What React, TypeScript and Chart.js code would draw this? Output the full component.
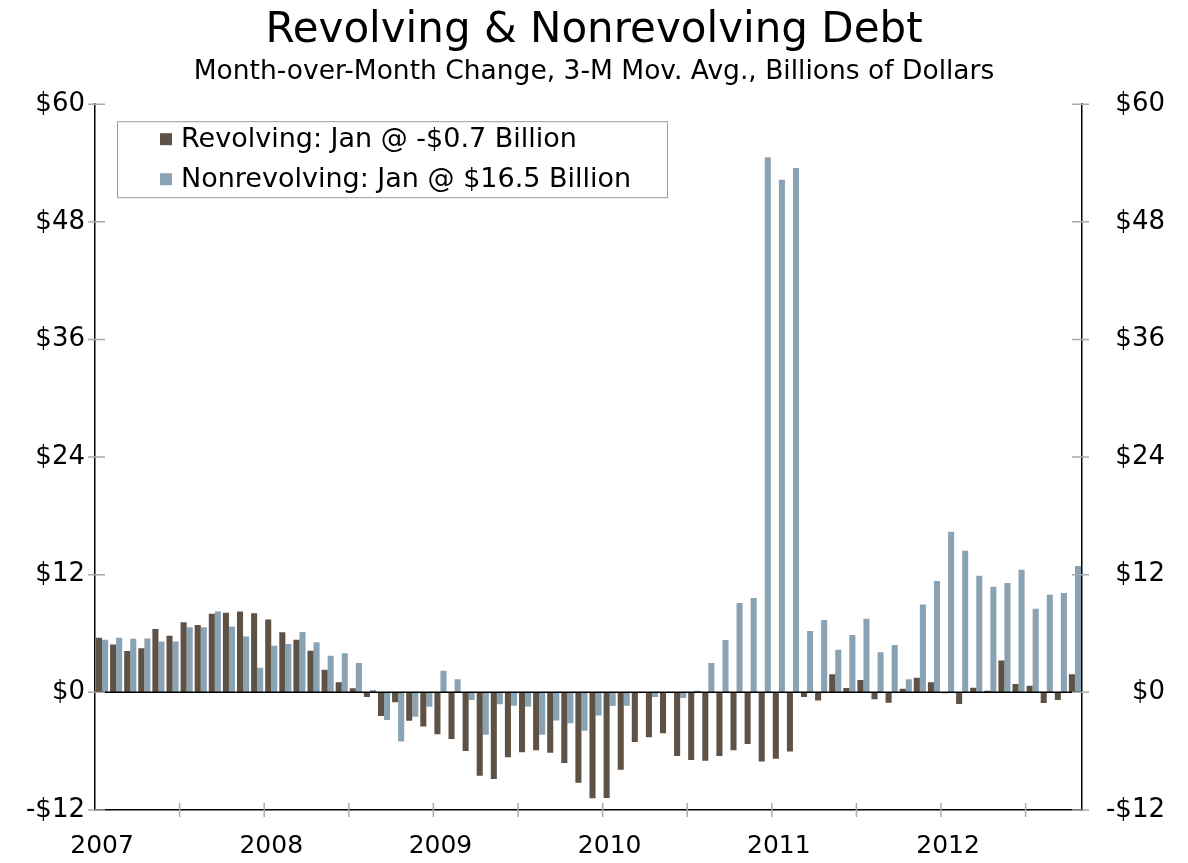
import React, { useEffect, useRef } from "react";
import { Chart, registerables } from "chart.js";

Chart.register(...registerables);

const years = ["2007", "2008", "2009", "2010", "2011", "2012"];
const monthNames = ["01", "02", "03", "04", "05", "06", "07", "08", "09", "10", "11", "12"];
const monthCount = 70;
const categories: string[] = [];
for (let i = 0; i < monthCount; i++) {
  categories.push(years[Math.floor(i / 12)] + "-" + monthNames[i % 12]);
}

const revolving = [
  5.57, 4.89, 4.21, 4.49, 6.46, 5.78, 7.14, 6.87, 8.02, 8.12, 8.26, 8.06,
  7.44, 6.12, 5.37, 4.25, 2.31, 1.02, 0.41, -0.48, -2.41, -1.02, -2.89, -3.47,
  -4.28, -4.76, -5.98, -8.5, -8.84, -6.63, -6.12, -5.91, -6.15, -7.21, -9.21, -10.81,
  -10.77, -7.89, -5.06, -4.59, -4.18, -6.49, -6.9, -6.97, -6.49, -5.91, -5.27, -7.04,
  -6.76, -6.02, -0.48, -0.82, 1.84, 0.44, 1.26, -0.71, -1.05, 0.37, 1.5, 1.02,
  -0.1, -1.19, 0.48, 0.17, 3.26, 0.85, 0.68, -1.09, -0.78, 1.84,
];

const nonrevolving = [
  5.37, 5.57, 5.47, 5.5, 5.2, 5.2, 6.63, 6.63, 8.26, 6.73, 5.71, 2.52,
  4.76, 4.93, 6.15, 5.1, 3.74, 3.98, 2.99, 0.24, -2.82, -5.0, -2.48, -1.46,
  2.21, 1.33, -0.78, -4.32, -1.22, -1.36, -1.43, -4.32, -2.86, -3.16, -3.91, -2.35,
  -1.39, -1.36, 0, -0.48, 0, -0.58, 0.17, 2.99, 5.34, 9.11, 9.62, 54.6,
  52.3, 53.5, 6.25, 7.38, 4.35, 5.85, 7.51, 4.08, 4.83, 1.33, 8.97, 11.35,
  16.38, 14.45, 11.9, 10.77, 11.15, 12.51, 8.53, 9.96, 10.13, 12.88,
];

const yTicks = [-12, 0, 12, 24, 36, 48, 60];
const titleText = "Revolving & Nonrevolving Debt";
const subtitleText = "Month-over-Month Change, 3-M Mov. Avg., Billions of Dollars";
const seriesLabels = ["Revolving: Jan @ -$0.7 Billion", "Nonrevolving: Jan @ $16.5 Billion"];

const BROWN = "#5e5145";
const BLUE = "#8aa3b4";
const FONT = "'DejaVu Sans', Verdana, sans-serif";
const Y_TICK_SIZE = 26;
const X_TICK_SIZE = 25;

const fmtDollar = (v: number) => (v < 0 ? "-$" : "$") + Math.abs(v);

const decorPlugin = {
  id: "decor",
  afterDatasetsDraw(chart: any) {
    const ctx = chart.ctx;
    const { left, right, top, bottom } = chart.chartArea;
    const xs = chart.scales.x;
    const ys = chart.scales.y;
    ctx.save();
    // zero line
    const y0 = ys.getPixelForValue(0);
    ctx.strokeStyle = "#000";
    ctx.lineWidth = 1.5;
    ctx.beginPath();
    ctx.moveTo(left, y0);
    ctx.lineTo(right, y0);
    ctx.stroke();
    // y tick marks (crossing both axes)
    ctx.strokeStyle = "#aaa";
    ctx.lineWidth = 1.5;
    yTicks.forEach((v) => {
      const y = ys.getPixelForValue(v);
      ctx.beginPath();
      ctx.moveTo(left - 7, y);
      ctx.lineTo(left + 10, y);
      ctx.moveTo(right - 10, y);
      ctx.lineTo(right + 7, y);
      ctx.stroke();
    });
    // x tick marks at half-year boundaries
    const half = (xs.getPixelForValue(1) - xs.getPixelForValue(0)) / 2;
    for (let i = 6; i < monthCount; i += 6) {
      const x = xs.getPixelForValue(i) - half;
      ctx.beginPath();
      ctx.moveTo(x, bottom - 7);
      ctx.lineTo(x, bottom + 7);
      ctx.stroke();
    }
    // legend box
    const bx = left + 22;
    const by = top + 17;
    const bw = 550;
    const bh = 76;
    ctx.fillStyle = "#fff";
    ctx.fillRect(bx, by, bw, bh);
    ctx.strokeStyle = "#999";
    ctx.lineWidth = 1;
    ctx.strokeRect(bx + 0.5, by + 0.5, bw, bh);
    ctx.font = "27px " + FONT;
    ctx.textBaseline = "middle";
    ctx.textAlign = "left";
    chart.data.datasets.forEach((ds: any, i: number) => {
      const cy = by + 18 + i * 40;
      ctx.fillStyle = ds.backgroundColor;
      ctx.fillRect(bx + 43, cy - 6, 12, 12);
      ctx.fillStyle = "#000";
      ctx.fillText(ds.label, bx + 64, cy + 1);
    });
    ctx.restore();
  },
};

export default function App() {
  const canvasRef = useRef<HTMLCanvasElement | null>(null);

  useEffect(() => {
    if (!canvasRef.current) return;
    const chart = new Chart(canvasRef.current, {
      type: "bar",
      data: {
        labels: categories,
        datasets: [
          {
            label: seriesLabels[0],
            data: revolving,
            backgroundColor: BROWN,
            borderWidth: 0,
            barPercentage: 1,
            categoryPercentage: 0.86,
            yAxisID: "y",
          },
          {
            label: seriesLabels[1],
            data: nonrevolving,
            backgroundColor: BLUE,
            borderWidth: 0,
            barPercentage: 1,
            categoryPercentage: 0.86,
            yAxisID: "y",
          },
        ],
      },
      options: {
        animation: false,
        responsive: true,
        maintainAspectRatio: false,
        layout: { padding: { left: 23, right: 23, top: 0, bottom: 0 } },
        plugins: {
          legend: { display: false },
          tooltip: { enabled: false },
          title: {
            display: true,
            text: titleText,
            color: "#000",
            font: { family: FONT, size: 42, weight: "normal", lineHeight: 1.2 },
            padding: { top: 6, bottom: 0 },
          },
          subtitle: {
            display: true,
            text: subtitleText,
            color: "#000",
            font: { family: FONT, size: 26.5, weight: "normal", lineHeight: 1.2 },
            padding: { top: 0, bottom: 16 },
          },
        },
        scales: {
          x: {
            type: "category",
            offset: true,
            grid: { display: false, drawTicks: false },
            border: { display: true, color: "#000", width: 1.5 },
            ticks: {
              autoSkip: false,
              maxRotation: 0,
              minRotation: 0,
              padding: 21,
              color: "#000",
              font: { family: FONT, size: X_TICK_SIZE },
              callback: (_v: any, idx: number) => (idx % 12 === 0 ? years[idx / 12] : ""),
            },
            afterFit: (s: any) => {
              s.height = 53;
            },
          },
          y: {
            type: "linear",
            position: "left",
            min: -12,
            max: 60,
            grid: { display: false, drawTicks: false },
            border: { display: true, color: "#000", width: 1.5 },
            ticks: {
              stepSize: 12,
              padding: 10,
              color: "#000",
              font: { family: FONT, size: Y_TICK_SIZE },
              callback: (v: any) => fmtDollar(Number(v)),
            },
            afterFit: (s: any) => {
              s.width = 72;
            },
          },
          y2: {
            type: "linear",
            position: "right",
            min: -12,
            max: 60,
            grid: { display: false, drawTicks: false },
            border: { display: true, color: "#000", width: 1.5 },
            ticks: {
              stepSize: 12,
              padding: 13,
              crossAlign: "far",
              color: "#000",
              font: { family: FONT, size: Y_TICK_SIZE },
              callback: (v: any) => fmtDollar(Number(v)),
            },
            afterFit: (s: any) => {
              s.width = 83;
            },
          },
        },
      },
      plugins: [decorPlugin],
    });
    return () => chart.destroy();
  }, []);

  return (
    <div style={{ position: "fixed", left: 0, top: 0, width: 1188, height: 863, background: "#fff" }}>
      <canvas ref={canvasRef} />
    </div>
  );
}
